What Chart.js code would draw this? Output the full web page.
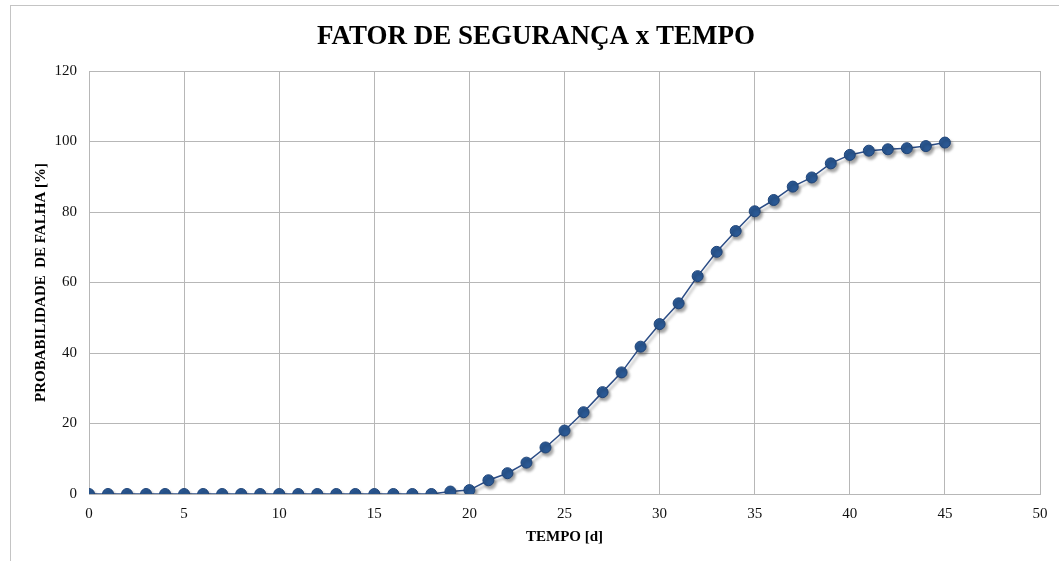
<!DOCTYPE html>
<html>
<head>
<meta charset="utf-8">
<script src="https://cdn.jsdelivr.net/npm/chart.js@4"></script>
<style>
  html, body { margin: 0; padding: 0; background: #fff; }
  #frame { position: absolute; left: 10px; top: 5px; width: 1060px; height: 560px; border: 1px solid #c4c4c4; box-sizing: border-box; }
  #wrap { position: absolute; left: 0; top: 0; width: 1059px; height: 561px; }
</style>
</head>
<body>
<div id="frame"></div>
<div id="wrap"><canvas id="chart" width="1059" height="561"></canvas></div>
<script>
const chartTitle = "FATOR DE SEGURANÇA x TEMPO";
const xTitle = "TEMPO [d]";
const yTitle = "PROBABILIDADE  DE FALHA [%]";

// tempo (dias)
const tempo = [0, 1, 2, 3, 4, 5, 6, 7, 8, 9, 10, 11, 12, 13, 14, 15, 16, 17, 18, 19, 20, 21, 22, 23, 24, 25, 26, 27, 28, 29, 30, 31, 32, 33, 34, 35, 36, 37, 38, 39, 40, 41, 42, 43, 44, 45];
// probabilidade de falha (%)
const probFalha = [0, 0, 0, 0, 0, 0, 0, 0, 0, 0, 0, 0, 0, 0, 0, 0, 0, 0, 0, 0.7, 1.1, 3.9, 5.9, 8.9, 13.2, 18.0, 23.2, 28.9, 34.5, 41.8, 48.2, 54.1, 61.8, 68.7, 74.6, 80.2, 83.4, 87.2, 89.8, 93.8, 96.2, 97.4, 97.8, 98.1, 98.7, 99.7];

const xTicks = { min: 0, max: 50, step: 5 };
const yTicks = { min: 0, max: 120, step: 20 };

const points = tempo.map((t, i) => ({ x: t, y: probFalha[i] }));

const serif = "'Liberation Serif', 'DejaVu Serif', serif";

const shadowPlugin = {
  id: "markerShadow",
  beforeDatasetsDraw(chart) {
    const ctx = chart.ctx;
    ctx.save();
    ctx.shadowColor = "rgba(0,0,0,0.35)";
    ctx.shadowBlur = 3;
    ctx.shadowOffsetX = 2;
    ctx.shadowOffsetY = 3;
  },
  afterDatasetsDraw(chart) {
    chart.ctx.restore();
  }
};

new Chart(document.getElementById("chart").getContext("2d"), {
  type: "scatter",
  data: {
    datasets: [{
      label: "Probabilidade de falha",
      data: points,
      showLine: true,
      borderColor: "#2c4d86",
      borderWidth: 1.5,
      pointRadius: 5.5,
      pointHoverRadius: 5.5,
      pointBackgroundColor: "#2a5893",
      pointBorderColor: "#1f4478",
      pointBorderWidth: 1
    }]
  },
  plugins: [shadowPlugin],
  options: {
    responsive: false,
    animation: false,
    layout: { padding: { left: 32, right: 19, top: 0, bottom: 0 } },
    plugins: {
      legend: { display: false },
      tooltip: { enabled: false },
      title: {
        display: true,
        text: chartTitle,
        color: "#000",
        font: { family: serif, size: 27, weight: "bold", lineHeight: 1.2 },
        padding: { top: 21, bottom: 17.6 }
      }
    },
    scales: {
      x: {
        type: "linear",
        min: xTicks.min,
        max: xTicks.max,
        afterFit(scale) { scale.height = 67; },
        ticks: {
          stepSize: xTicks.step,
          color: "#111",
          font: { family: serif, size: 15 },
          padding: 11,
          maxRotation: 0
        },
        grid: { color: "#b7b7b7", lineWidth: 1, drawTicks: false },
        border: { color: "#b7b7b7" },
        title: {
          display: true,
          text: xTitle,
          color: "#000",
          font: { family: serif, size: 15, weight: "bold", lineHeight: 1.2 },
          padding: { top: 0, bottom: 15 }
        }
      },
      y: {
        min: yTicks.min,
        max: yTicks.max,
        afterFit(scale) { scale.width = 57; },
        ticks: {
          stepSize: yTicks.step,
          color: "#111",
          font: { family: serif, size: 15 },
          padding: 12
        },
        grid: { color: "#b7b7b7", lineWidth: 1, drawTicks: false },
        border: { color: "#b7b7b7" },
        title: {
          display: true,
          text: yTitle,
          color: "#000",
          font: { family: serif, size: 15, weight: "bold", lineHeight: 1.2 },
          padding: { top: 0, bottom: 0 }
        }
      }
    }
  }
});
</script>
</body>
</html>
